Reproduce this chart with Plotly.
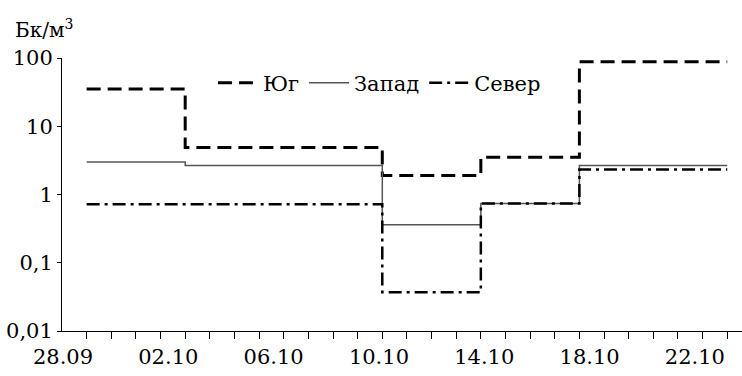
import plotly.graph_objects as go

# days counted from 28.09
south_x = [0, 4, 12, 16, 20, 26]
south_y = [35, 4.9, 1.9, 3.5, 88, 88]
west_x = [0, 4, 12, 16, 20, 26]
west_y = [3.0, 2.65, 0.36, 0.74, 2.66, 2.66]
north_x = [0, 12, 16, 20, 26]
north_y = [0.72, 0.037, 0.74, 2.32, 2.32]

date_labels = ["28.09", "02.10", "06.10", "10.10", "14.10", "18.10", "22.10"]
y_tickvals = [0.01, 0.1, 1, 10, 100]
y_ticktext = ["0,01", "0,1", "1", "10", "100"]
day_ticks = list(range(0, 27))

FONT = "DejaVu Serif"

fig = go.Figure()
fig.add_trace(go.Scatter(x=south_x, y=south_y, name="Юг", mode="lines", line_shape="hv",
                         line=dict(color="black", width=3, dash="14px,7px")))
fig.add_trace(go.Scatter(x=west_x, y=west_y, name="Запад", mode="lines", line_shape="hv",
                         line=dict(color="#555555", width=1.5)))
fig.add_trace(go.Scatter(x=north_x, y=north_y, name="Север", mode="lines", line_shape="hv",
                         line=dict(color="black", width=2.5, dash="13px,5px,3px,5px")))

fig.update_layout(
    width=742, height=376,
    margin=dict(l=62, r=0, t=58, b=45),
    paper_bgcolor="white", plot_bgcolor="white",
    font=dict(family=FONT, size=21, color="black"),
    showlegend=True,
    legend=dict(orientation="h", x=0.222, y=0.908, xanchor="left", yanchor="middle",
                bgcolor="rgba(0,0,0,0)", font=dict(family=FONT, size=21, color="black"),
                itemwidth=40, tracegroupgap=0),
    xaxis=dict(range=[-1, 26.6], showgrid=False, zeroline=False, showline=True,
               linecolor="black", linewidth=1, ticks="outside", ticklen=7,
               tickcolor="black", tickvals=day_ticks, showticklabels=False),
    xaxis2=dict(overlaying="x", anchor="y", side="bottom", range=[-0.0095, 6.447],
                showgrid=False, zeroline=False, showline=False, ticks="",
                ticklabelstandoff=11,
                tickvals=list(range(len(date_labels))), ticktext=date_labels,
                tickfont=dict(family=FONT, size=21, color="black")),
    yaxis=dict(type="log", range=[-2, 2], showgrid=False, zeroline=False, showline=True,
               linecolor="black", linewidth=1, ticks="outside", ticklen=4,
               tickcolor="black", tickvals=y_tickvals, ticktext=y_ticktext,
               tickfont=dict(family=FONT, size=21, color="black")),
)
# invisible helper trace that activates the label axis
fig.add_trace(go.Scatter(x=[0], y=[1], xaxis="x2", mode="markers",
                         marker=dict(opacity=0), showlegend=False, hoverinfo="skip"))

fig.add_annotation(text="Бк/м<sup>3</sup>", xref="paper", yref="paper",
                   x=-0.072, y=1.0, xanchor="left", yanchor="bottom", yshift=14,
                   showarrow=False, font=dict(family=FONT, size=20, color="black"))

fig.write_html("out.html")
